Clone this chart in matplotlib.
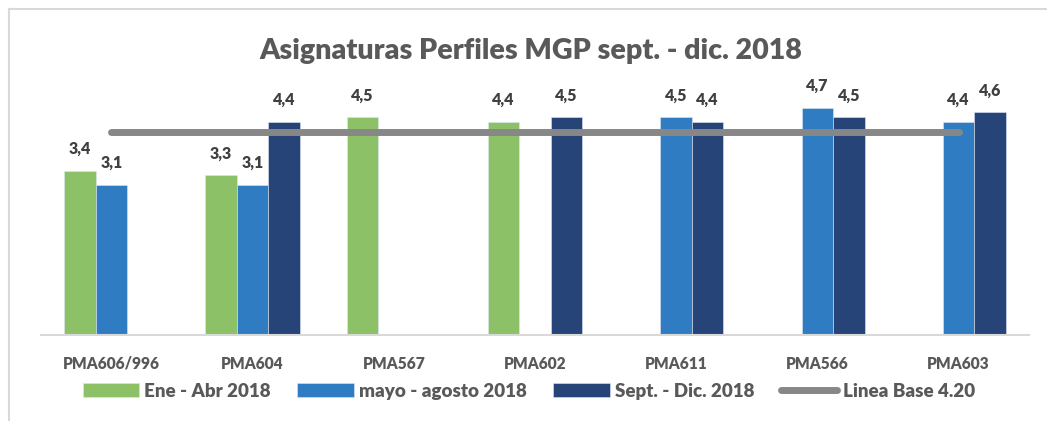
import matplotlib.pyplot as plt
import numpy as np

plt.rcParams['font.family'] = ['Lato', 'DejaVu Sans']

categorias = ["PMA606/996", "PMA604", "PMA567", "PMA602", "PMA611", "PMA566", "PMA603"]
ene_abr = [3.4, 3.3, 4.5, 4.4, np.nan, np.nan, np.nan]
mayo_ago = [3.1, 3.1, np.nan, np.nan, 4.5, 4.7, 4.4]
sept_dic = [np.nan, 4.4, np.nan, 4.5, 4.4, 4.5, 4.6]
linea_base = 4.20

series = [
    ("Ene - Abr 2018", ene_abr, "#8CC168"),
    ("mayo - agosto 2018", mayo_ago, "#307CC2"),
    ("Sept. - Dic. 2018", sept_dic, "#264478"),
]

gris_texto = "#595959"
peso = 800

fig = plt.figure(figsize=(10.47, 4.21), dpi=100)
ax = fig.add_axes([0.039, 0.204, 0.944, 0.575])

x = np.arange(len(categorias))
ancho = 0.223

barras = []
for i, (nombre, valores, color) in enumerate(series):
    pos = x + (i - 1) * ancho
    b = ax.bar(pos, valores, width=ancho, color=color, label=nombre,
               edgecolor="#DCE6F2", linewidth=0.4)
    barras.append(b)
    for xp, v in zip(pos, valores):
        if not np.isnan(v):
            ax.text(xp, v + 0.29, f"{v:.1f}".replace(".", ","), ha="center",
                    va="bottom", fontsize=11.5, fontweight=peso, color="#404040")

linea, = ax.plot([x[0], x[-1]], [linea_base, linea_base], color="#878787", lw=5,
                 solid_capstyle="round", label="Linea Base 4.20")

ax.set_xlim(-0.5, len(categorias) - 0.5)
ax.set_ylim(0, 5)
ax.set_yticks([])
ax.set_xticks(x, categorias)
ax.tick_params(axis="x", length=0, pad=15)
for t in ax.get_xticklabels():
    t.set_fontsize(11.2)
    t.set_fontweight(peso)
    t.set_color(gris_texto)

for lado in ["top", "right", "left"]:
    ax.spines[lado].set_visible(False)
ax.spines["bottom"].set_color("#D9D9D9")
ax.spines["bottom"].set_linewidth(1.5)

fig.text(0.507, 0.88, "Asignaturas Perfiles MGP sept. - dic. 2018", ha="center",
         va="center", fontsize=20.6, fontweight=peso, color=gris_texto)

leg = fig.legend(barras + [linea], [s[0] for s in series] + ["Linea Base 4.20"],
                 loc="center", bbox_to_anchor=(0.505, 0.071), ncol=4, frameon=False,
                 handlelength=3.0, handleheight=0.72, handletextpad=0.3,
                 columnspacing=1.4, prop={"size": 13.5, "weight": peso})
for t in leg.get_texts():
    t.set_color(gris_texto)

# marco gris del grafico
fig.add_artist(plt.Line2D([0.0086, 0.0086], [0.0, 0.979], color="#D9D9D9", lw=1.5))
fig.add_artist(plt.Line2D([0.0086, 1.0], [0.979, 0.979], color="#D9D9D9", lw=1.5))

fig.savefig("out.png", dpi=100)
